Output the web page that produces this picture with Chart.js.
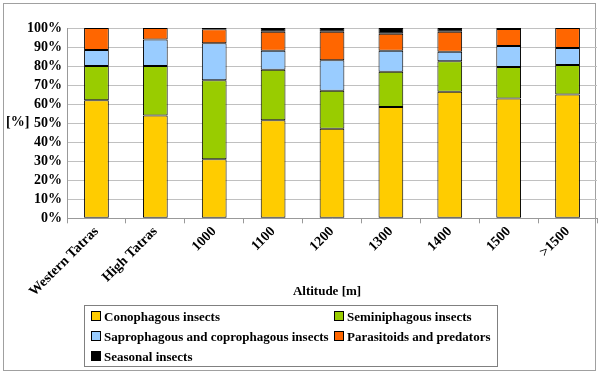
<!DOCTYPE html>
<html><head><meta charset="utf-8">
<script src="https://cdn.jsdelivr.net/npm/chart.js@4/dist/chart.umd.min.js"></script>
<style>
html,body{margin:0;padding:0;background:#fff;}
#wrap{position:relative;width:600px;height:375px;}
#frame{position:absolute;left:3px;top:3px;width:593px;height:368px;border:1px solid #a0a0a0;box-sizing:border-box;}
#c{position:absolute;left:0;top:0;}
#ytitle{position:absolute;left:6px;top:114px;font:bold 14px "Liberation Serif","Times New Roman",serif;color:#000;}
#xtitle{position:absolute;left:277px;width:100px;text-align:center;top:283px;font:bold 13px "Liberation Serif","Times New Roman",serif;color:#000;}
#legend{position:absolute;left:84px;top:305px;width:414px;height:62px;border:1px solid #808080;box-sizing:border-box;
 font:bold 13px "Liberation Serif","Times New Roman",serif;color:#000;}
.li{position:absolute;white-space:nowrap;line-height:14px;}
.sw{display:inline-block;width:8px;height:8px;border:1px solid #000;margin-right:3px;vertical-align:0px;}
</style></head>
<body><div id="wrap">
<div id="frame"></div>
<canvas id="c" width="600" height="375"></canvas>
<div id="ytitle">[%]</div>
<div id="xtitle">Altitude [m]</div>
<div id="legend"></div>
</div>
<script>
const categories = ["Western Tatras","High Tatras","1000","1100","1200","1300","1400","1500",">1500"];
const seriesNames = ["Conophagous insects","Seminiphagous insects","Saprophagous and coprophagous insects","Parasitoids and predators","Seasonal insects"];
const conophagous  = [62, 54, 31, 51.5, 47, 58.5, 66.5, 63, 65];
const seminiphagous= [18, 26, 41.5, 26.5, 20, 18.5, 16, 16.5, 15.5];
const saprophagous = [8.5, 14, 19.5, 10, 16, 11, 5, 11, 9];
const parasitoids  = [11.5, 6, 7.3, 10, 15, 9, 10.5, 9, 10.5];
const seasonal     = [0, 0, 0.7, 2, 2, 3, 2, 0.5, 0];
const yTicks = [0,10,20,30,40,50,60,70,80,90,100];
const colors = ["#FFCC00","#99CC00","#99CCFF","#FF6600","#000000"];
const seriesData = [conophagous, seminiphagous, saprophagous, parasitoids, seasonal];

const serif = '"Liberation Serif","Times New Roman",serif';
new Chart(document.getElementById('c'), {
  type: 'bar',
  data: {
    labels: categories,
    datasets: seriesData.map((d,i)=>({
      label: seriesNames[i], data: d.map(v => v === 0 ? null : v), backgroundColor: colors[i],
      borderColor: '#000', borderWidth: 1, borderSkipped: false,
      barPercentage: 0.42, categoryPercentage: 1
    }))
  },
  options: {
    responsive: false, animation: false,
    layout: { padding: { left: 22, right: 3, top: 28, bottom: 75 } },
    plugins: { legend: { display: false }, tooltip: { enabled: false } },
    scales: {
      x: {
        stacked: true,
        grid: { offset: true, drawOnChartArea: false, color: '#999', tickLength: 5 },
        border: { color: '#999' },
        ticks: { font: { family: serif, size: 14, weight: 'bold' }, color: '#000', maxRotation: 45, minRotation: 45, padding: 0 }
      },
      y: {
        stacked: true, min: 0, max: 100,
        afterBuildTicks: (ax) => { ax.ticks = yTicks.map(v => ({ value: v })); },
        grid: { color: '#c0c0c0', drawTicks: false },
        border: { color: '#999' },
        ticks: { autoSkip: false, font: { family: serif, size: 14, weight: 'bold' }, color: '#000', padding: 5, callback: v => v + '%' }
      }
    }
  }
});

const pos = [[6,8],[249,8],[6,28],[249,28],[6,48]];
const leg = document.getElementById('legend');
seriesNames.forEach((n,i)=>{
  const el = document.createElement('div');
  el.className='li'; el.style.left=pos[i][0]+'px'; el.style.top=(pos[i][1]-4)+'px';
  el.innerHTML = '<span class="sw" style="background:'+colors[i]+'"></span>' + n;
  leg.appendChild(el);
});
</script>
</body></html>
